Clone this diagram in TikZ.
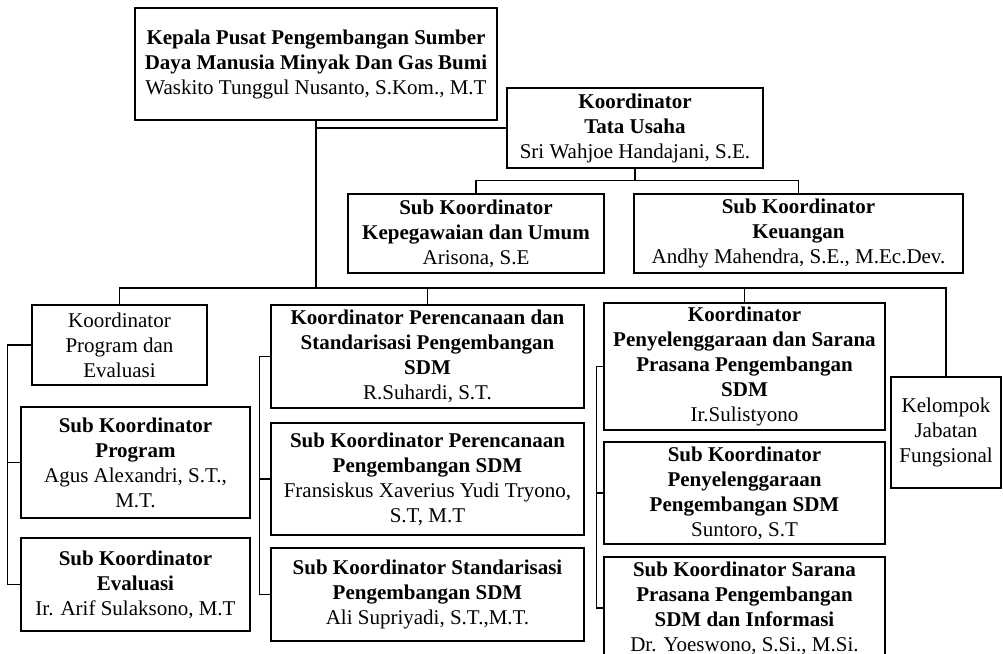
\documentclass[tikz,border=0pt]{standalone}
\usepackage{fontspec}
\setmainfont{Liberation Serif}
\begin{document}
\begin{tikzpicture}[line join=miter,x=0.5pt,y=-0.5pt,line width=0.6pt,
  box/.style={draw,rectangle,inner sep=0pt,align=center,font=\fontsize{10.5}{12.5}\selectfont}]
\clip (0,0) rectangle (1003,654);
% kepala dan tata usaha
\node [box,minimum width=181pt,minimum height=56pt] (kepala) at (316,64)
  {\textbf{Kepala Pusat Pengembangan Sumber}\\\textbf{Daya Manusia Minyak Dan Gas Bumi}\\Waskito Tunggul Nusanto, S.Kom., M.T};
\node [box,minimum width=128pt,minimum height=40pt] (tu) at (635,128)
  {\textbf{Koordinator}\\\textbf{Tata Usaha}\\Sri Wahjoe Handajani, S.E.};
\node [box,minimum width=128pt,minimum height=39.5pt] (pegawai) at (476,233.5)
  {\textbf{Sub Koordinator}\\\textbf{Kepegawaian dan Umum}\\Arisona, S.E};
\node [box,minimum width=164.5pt,minimum height=39.5pt] (uang) at (798.5,233.5)
  {\textbf{Sub Koordinator}\\\textbf{Keuangan}\\Andhy Mahendra, S.E., M.Ec.Dev.};
% program dan evaluasi
\node [box,minimum width=87.5pt,minimum height=40pt] (progev) at (119.5,345)
  {Koordinator\\Program dan\\Evaluasi};
\node [box,minimum width=114.5pt,minimum height=55.5pt] (subprog) at (135.5,462.5)
  {\textbf{Sub Koordinator}\\\textbf{Program}\\Agus Alexandri, S.T.,\\M.T.};
\node [box,minimum width=114.5pt,minimum height=46.5pt] (subev) at (135.5,584.5)
  {\textbf{Sub Koordinator}\\\textbf{Evaluasi}\\Ir. Arif Sulaksono, M.T};
% perencanaan dan standarisasi
\node [box,minimum width=156.5pt,minimum height=51.5pt] (renc) at (427.5,356.5)
  {\textbf{Koordinator Perencanaan dan}\\\textbf{Standarisasi Pengembangan}\\\textbf{SDM}\\R.Suhardi, S.T.};
\node [box,minimum width=156.5pt,minimum height=56pt] (subrenc) at (427.5,479)
  {\textbf{Sub Koordinator Perencanaan}\\\textbf{Pengembangan SDM}\\Fransiskus Xaverius Yudi Tryono,\\S.T, M.T};
\node [box,minimum width=156.5pt,minimum height=46.5pt] (substd) at (427.5,594.5)
  {\textbf{Sub Koordinator Standarisasi}\\\textbf{Pengembangan SDM}\\Ali Supriyadi, S.T.,M.T.};
% penyelenggaraan dan sarana prasarana
\node [box,minimum width=140.5pt,minimum height=63.5pt] (peny) at (744.5,366.5)
  {\textbf{Koordinator}\\\textbf{Penyelenggaraan dan Sarana}\\\textbf{Prasana Pengembangan}\\\textbf{SDM}\\Ir.Sulistyono};
\node [box,minimum width=140.5pt,minimum height=51pt] (subpeny) at (744.5,493)
  {\textbf{Sub Koordinator}\\\textbf{Penyelenggaraan}\\\textbf{Pengembangan SDM}\\Suntoro, S.T};
\node [box,minimum width=140.5pt,minimum height=51pt] (subsar) at (744.5,608)
  {\textbf{Sub Koordinator Sarana}\\\textbf{Prasana Pengembangan}\\\textbf{SDM dan Informasi}\\Dr. Yoeswono, S.Si., M.Si.};
\node [box,minimum width=55pt,minimum height=55.5pt] (kjf) at (946,432.5)
  {Kelompok\\Jabatan\\Fungsional};
% garis
\coordinate (bus) at (317,288);
\draw (kepala.south) -- (kepala.south |- bus);
\draw (kepala.south |- tu.west) -- (tu.west);
\draw (tu.south) -- ++(0,12) coordinate (tub);
\draw (pegawai.north) |- (tub) -| (uang.north);
\draw (progev.north) |- (bus) -| (kjf.north);
\draw (renc.north) -- (renc.north |- bus);
\draw (peny.north) -- (peny.north |- bus);
\draw (progev.west) -- ++(-24,0) coordinate (lb) |- (subev.west);
\draw (lb |- subprog.west) -- (subprog.west);
\draw (renc.west) -- ++(-11,0) coordinate (mb) |- (substd.west);
\draw (mb |- subrenc.west) -- (subrenc.west);
\draw (peny.west) -- ++(-7,0) coordinate (rb) |- (subsar.west);
\draw (rb |- subpeny.west) -- (subpeny.west);
\end{tikzpicture}
\end{document}
